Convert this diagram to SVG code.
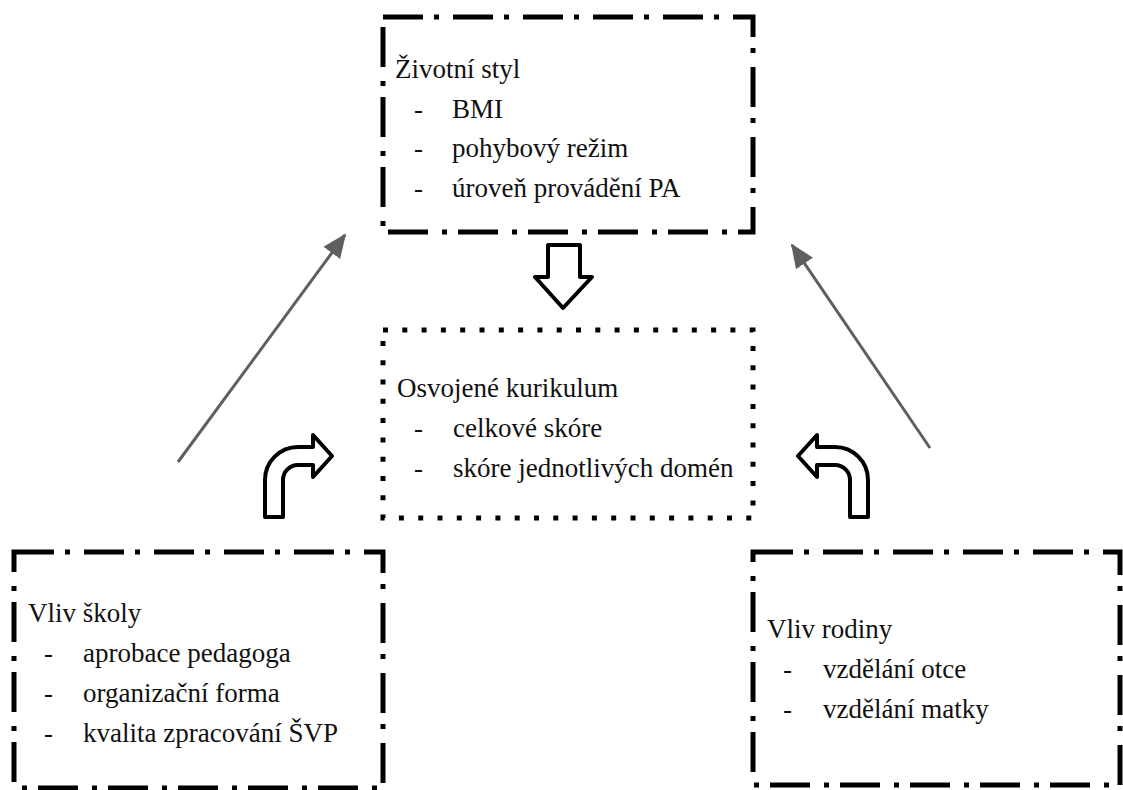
<svg xmlns="http://www.w3.org/2000/svg" width="1123" height="790" viewBox="0 0 1123 790">
<style>
.t{font-family:'Liberation Serif','DejaVu Serif',serif;font-size:27px;fill:#111}
.dd{fill:none;stroke:#000;stroke-width:5;stroke-dasharray:40 11 5 14}
.dot{fill:none;stroke:#000;stroke-width:5;stroke-dasharray:5 14.3}
.hollow{fill:#fff;stroke:#000;stroke-width:4;stroke-linejoin:round}
.gray{stroke:#5f5f5f;stroke-width:3;fill:none}
</style>
<defs>
<marker id="ah" markerWidth="8" markerHeight="8" refX="6.5" refY="3" orient="auto" markerUnits="strokeWidth" viewBox="0 0 7 6">
<path d="M0,0 L7,3 L0,6 Z" fill="#5f5f5f"/>
</marker>
</defs>
<rect width="1123" height="790" fill="#fff"/>
<g id="connectors">
<line class="gray" x1="178" y1="462" x2="345" y2="235" marker-end="url(#ah)"/>
<line class="gray" x1="930" y1="448" x2="792" y2="245" marker-end="url(#ah)"/>
<path class="hollow" d="M548,245 H580 V277 H592 L563,308 L535,277 H548 Z"/>
<path class="hollow" d="M265,517 V480 A33,33 0 0 1 298,447 H313 V435 L332,456 L313,477 V465 H298 A15,15 0 0 0 283,480 V517 Z"/>
<path class="hollow" d="M868,517 V480 A33,33 0 0 0 835,447 H817 V435 L798,456 L817,477 V465 H835 A15,15 0 0 1 850,480 V517 Z"/>
</g>
<g id="zivotni-styl" font-family="Liberation Serif, serif">
<rect class="dd" x="383" y="17" width="370" height="215"/>
<text class="t" x="395" y="78">Životní styl</text>
<text class="t" x="414" y="118">-</text><text class="t" x="452" y="118">BMI</text>
<text class="t" x="414" y="157">-</text><text class="t" x="452" y="157">pohybový režim</text>
<text class="t" x="414" y="197">-</text><text class="t" x="452" y="197">úroveň provádění PA</text>
</g>
<g id="osvojene-kurikulum">
<rect class="dot" x="383" y="330" width="370" height="188"/>
<text class="t" x="397" y="397">Osvojené kurikulum</text>
<text class="t" x="414" y="437">-</text><text class="t" x="453" y="437">celkové skóre</text>
<text class="t" x="414" y="477">-</text><text class="t" x="453" y="477">skóre jednotlivých domén</text>
</g>
<g id="vliv-skoly">
<rect class="dd" x="14" y="552" width="369" height="236"/>
<text class="t" x="28" y="622">Vliv školy</text>
<text class="t" x="44" y="662">-</text><text class="t" x="83" y="662">aprobace pedagoga</text>
<text class="t" x="44" y="702">-</text><text class="t" x="83" y="702">organizační forma</text>
<text class="t" x="44" y="742">-</text><text class="t" x="83" y="742">kvalita zpracování ŠVP</text>
</g>
<g id="vliv-rodiny">
<rect class="dd" x="753" y="552" width="367" height="233"/>
<text class="t" x="767" y="638">Vliv rodiny</text>
<text class="t" x="783" y="678">-</text><text class="t" x="823" y="678">vzdělání otce</text>
<text class="t" x="783" y="718">-</text><text class="t" x="823" y="718">vzdělání matky</text>
</g>
</svg>
